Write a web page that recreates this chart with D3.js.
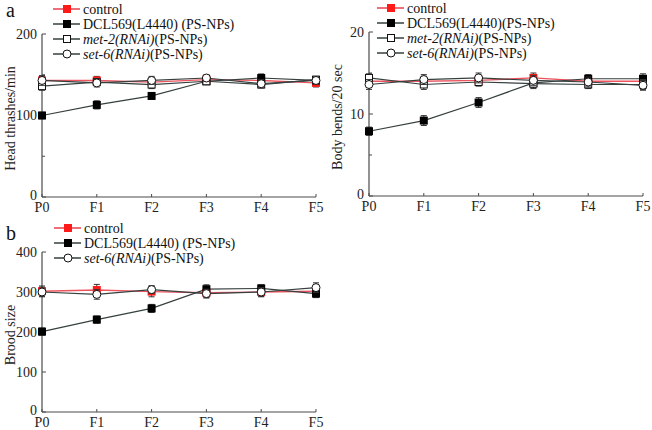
<!DOCTYPE html>
<html><head><meta charset="utf-8">
<script src="https://cdn.jsdelivr.net/npm/d3@7"></script>
<style>
body{margin:0;background:#fff;}
svg{display:block;font-family:"Liberation Serif","Times New Roman",serif;}
</style></head>
<body>
<svg id="chart" width="652" height="430"></svg>
<script>
const generations = ["P0","F1","F2","F3","F4","F5"];

// Panel a (left): Head thrashes/min
const headControl = [143, 143, 141, 144, 143, 140];
const headControlErr = [5, 5, 5, 5, 4, 5];
const headDCL = [100, 113, 124, 142, 146, 143];
const headDCLErr = [4, 5, 4, 4, 5, 4];
const headMet2 = [136, 141, 138, 142, 138, 144];
const headMet2Err = [5, 4, 5, 4, 4, 4];
const headSet6 = [143, 140, 143, 146, 139, 143];
const headSet6Err = [6, 5, 5, 4, 5, 4];

// Panel a (right): Body bends/20 sec
const bendControl = [14.0, 14.0, 14.1, 14.4, 14.0, 14.0];
const bendControlErr = [0.6, 0.6, 0.6, 0.6, 0.6, 0.6];
const bendDCL = [7.9, 9.2, 11.4, 13.8, 14.3, 14.3];
const bendDCLErr = [0.5, 0.6, 0.6, 0.6, 0.5, 0.6];
const bendMet2 = [14.4, 13.6, 13.9, 13.7, 13.6, 13.6];
const bendMet2Err = [0.5, 0.6, 0.5, 0.6, 0.5, 0.6];
const bendSet6 = [13.6, 14.2, 14.4, 14.1, 13.9, 13.5];
const bendSet6Err = [0.6, 0.6, 0.6, 0.6, 0.6, 0.6];

// Panel b: Brood size
const broodControl = [302, 305, 301, 298, 300, 302];
const broodControlErr = [13, 14, 13, 12, 12, 12];
const broodDCL = [201, 231, 259, 307, 309, 296];
const broodDCLErr = [9, 9, 10, 11, 9, 10];
const broodSet6 = [300, 294, 306, 296, 300, 311];
const broodSet6Err = [12, 12, 10, 11, 11, 12];

const svg = d3.select("#chart");
const axisColor = "#4a4a4a";
const lineColor = "#36403f";
const redLine = "#ec5560";
const red = "#ff1a1a";

function drawPanel(cfg){
  const g = svg.append("g");
  const x = d3.scalePoint().domain(generations).range([cfg.x0, cfg.x1]);
  const y = d3.scaleLinear().domain([0, cfg.ymax]).range([cfg.y0, cfg.y1]);

  g.append("line").attr("x1", cfg.x0).attr("x2", cfg.x0).attr("y1", cfg.y0).attr("y2", cfg.y1)
    .attr("stroke", axisColor).attr("stroke-width", 1.2);
  g.append("line").attr("x1", cfg.x0).attr("x2", cfg.x1).attr("y1", cfg.y0).attr("y2", cfg.y0)
    .attr("stroke", axisColor).attr("stroke-width", 1.2);

  cfg.yticks.forEach(t => {
    g.append("line").attr("x1", cfg.x0).attr("x2", cfg.x0 + 4).attr("y1", y(t)).attr("y2", y(t))
      .attr("stroke", axisColor).attr("stroke-width", 1);
    g.append("text").attr("x", cfg.x0 - 5).attr("y", y(t) - (t === 0 ? 2 : 0)).attr("dy", "0.35em")
      .attr("text-anchor", "end").attr("font-size", 14).attr("fill", "#222").text(t);
  });
  (cfg.minor || []).forEach(t => {
    g.append("line").attr("x1", cfg.x0).attr("x2", cfg.x0 + 3).attr("y1", y(t)).attr("y2", y(t))
      .attr("stroke", axisColor).attr("stroke-width", 1);
  });
  generations.forEach(gn => {
    g.append("line").attr("x1", x(gn)).attr("x2", x(gn)).attr("y1", cfg.y0).attr("y2", cfg.y0 - 3)
      .attr("stroke", axisColor).attr("stroke-width", 1);
    g.append("text").attr("x", x(gn)).attr("y", cfg.y0 + 15).attr("text-anchor", "middle")
      .attr("font-size", 14).attr("fill", "#222").text(gn);
  });

  g.append("text").attr("transform", `translate(${cfg.labelX},${(cfg.y0 + cfg.y1) / 2 + 3}) rotate(-90)`)
    .attr("text-anchor", "middle").attr("dy", "0.35em").attr("font-size", 14).attr("fill", "#222")
    .text(cfg.ylabel);

  const lineGen = d3.line().x((d, i) => x(generations[i])).y(d => y(d));

  cfg.series.forEach(s => {
    g.append("path").attr("d", lineGen(s.values)).attr("fill", "none")
      .attr("stroke", s.lineColor).attr("stroke-width", s.lw);
  });
  cfg.series.forEach(s => {
    s.values.forEach((v, i) => {
      const cx = x(generations[i]);
      const e = s.err[i];
      const eg = g.append("g").attr("stroke", s.errColor).attr("stroke-width", 1);
      eg.append("line").attr("x1", cx).attr("x2", cx).attr("y1", y(v - e)).attr("y2", y(v + e));
      eg.append("line").attr("x1", cx - 3).attr("x2", cx + 3).attr("y1", y(v - e)).attr("y2", y(v - e));
      eg.append("line").attr("x1", cx - 3).attr("x2", cx + 3).attr("y1", y(v + e)).attr("y2", y(v + e));
      drawMarker(g, s.marker, cx, y(v));
    });
  });

  cfg.legend.forEach((L, i) => {
    const ly = cfg.legY + i * 15;
    g.append("line").attr("x1", cfg.legX).attr("x2", cfg.legX + 27).attr("y1", ly).attr("y2", ly)
      .attr("stroke", L.lineColor).attr("stroke-width", L.lw + 0.3);
    drawMarker(g, L.marker, cfg.legX + 14, ly);
    const t = g.append("text").attr("x", cfg.legX + 30).attr("y", ly).attr("dy", "0.35em")
      .attr("font-size", 14).attr("fill", "#111");
    if (L.italic) {
      t.append("tspan").attr("font-style", "italic").text(L.italic);
      t.append("tspan").text(L.rest);
    } else {
      t.text(L.text);
    }
  });

  if (cfg.tag) {
    g.append("text").attr("x", cfg.tagX).attr("y", cfg.tagY).attr("font-size", 20).attr("fill", "#111").text(cfg.tag);
  }
}

function drawMarker(g, type, cx, cy){
  const s = 8;
  if (type === "redsq") {
    g.append("rect").attr("x", cx - s/2).attr("y", cy - s/2).attr("width", s).attr("height", s).attr("fill", red);
  } else if (type === "blacksq") {
    g.append("rect").attr("x", cx - s/2).attr("y", cy - s/2).attr("width", s).attr("height", s).attr("fill", "#000");
  } else if (type === "opensq") {
    g.append("rect").attr("x", cx - s/2 + 0.5).attr("y", cy - s/2 + 0.5).attr("width", s - 1).attr("height", s - 1)
      .attr("fill", "#fff").attr("stroke", "#111").attr("stroke-width", 1);
  } else {
    g.append("circle").attr("cx", cx).attr("cy", cy).attr("r", 4)
      .attr("fill", "#fff").attr("stroke", "#111").attr("stroke-width", 1);
  }
}

const sControl = {marker: "redsq", lineColor: redLine, lw: 1.4, errColor: "#333", text: "control"};
const sDCL = {marker: "blacksq", lineColor: lineColor, lw: 1.2, errColor: "#333", text: "DCL569(L4440)\u00a0(PS-NPs)"};
const sMet = {marker: "opensq", lineColor: lineColor, lw: 1.2, errColor: "#333", italic: "met-2(RNAi)", rest: "(PS-NPs)"};
const sSet = {marker: "circle", lineColor: lineColor, lw: 1.2, errColor: "#333", italic: "set-6(RNAi)", rest: "(PS-NPs)"};

drawPanel({
  x0: 42, x1: 316, y0: 197, y1: 34, ymax: 200, yticks: [0, 100, 200], minor: [50, 150],
  ylabel: "Head thrashes/min", labelX: 10,
  series: [
    Object.assign({}, sControl, {values: headControl, err: headControlErr}),
    Object.assign({}, sDCL, {values: headDCL, err: headDCLErr}),
    Object.assign({}, sMet, {values: headMet2, err: headMet2Err}),
    Object.assign({}, sSet, {values: headSet6, err: headSet6Err})
  ],
  legend: [sControl, sDCL, sMet, sSet], legX: 53, legY: 9,
  tag: "a", tagX: 6, tagY: 17
});

drawPanel({
  x0: 369, x1: 643, y0: 196, y1: 32, ymax: 20, yticks: [0, 10, 20], minor: [5, 15],
  ylabel: "Body bends/20 sec", labelX: 337,
  series: [
    Object.assign({}, sControl, {values: bendControl, err: bendControlErr}),
    Object.assign({}, sDCL, {values: bendDCL, err: bendDCLErr}),
    Object.assign({}, sMet, {values: bendMet2, err: bendMet2Err}),
    Object.assign({}, sSet, {values: bendSet6, err: bendSet6Err})
  ],
  legend: [sControl, Object.assign({}, sDCL, {text: "DCL569(L4440)(PS-NPs)"}), sMet, sSet], legX: 377, legY: 8,
  tag: ""
});

drawPanel({
  x0: 42, x1: 316, y0: 412, y1: 252, ymax: 400, yticks: [0, 100, 200, 300, 400], minor: [],
  ylabel: "Brood size", labelX: 10,
  series: [
    Object.assign({}, sControl, {values: broodControl, err: broodControlErr}),
    Object.assign({}, sDCL, {values: broodDCL, err: broodDCLErr}),
    Object.assign({}, sSet, {values: broodSet6, err: broodSet6Err})
  ],
  legend: [sControl, sDCL, sSet], legX: 54, legY: 228,
  tag: "b", tagX: 6, tagY: 240
});
</script>
</body></html>
